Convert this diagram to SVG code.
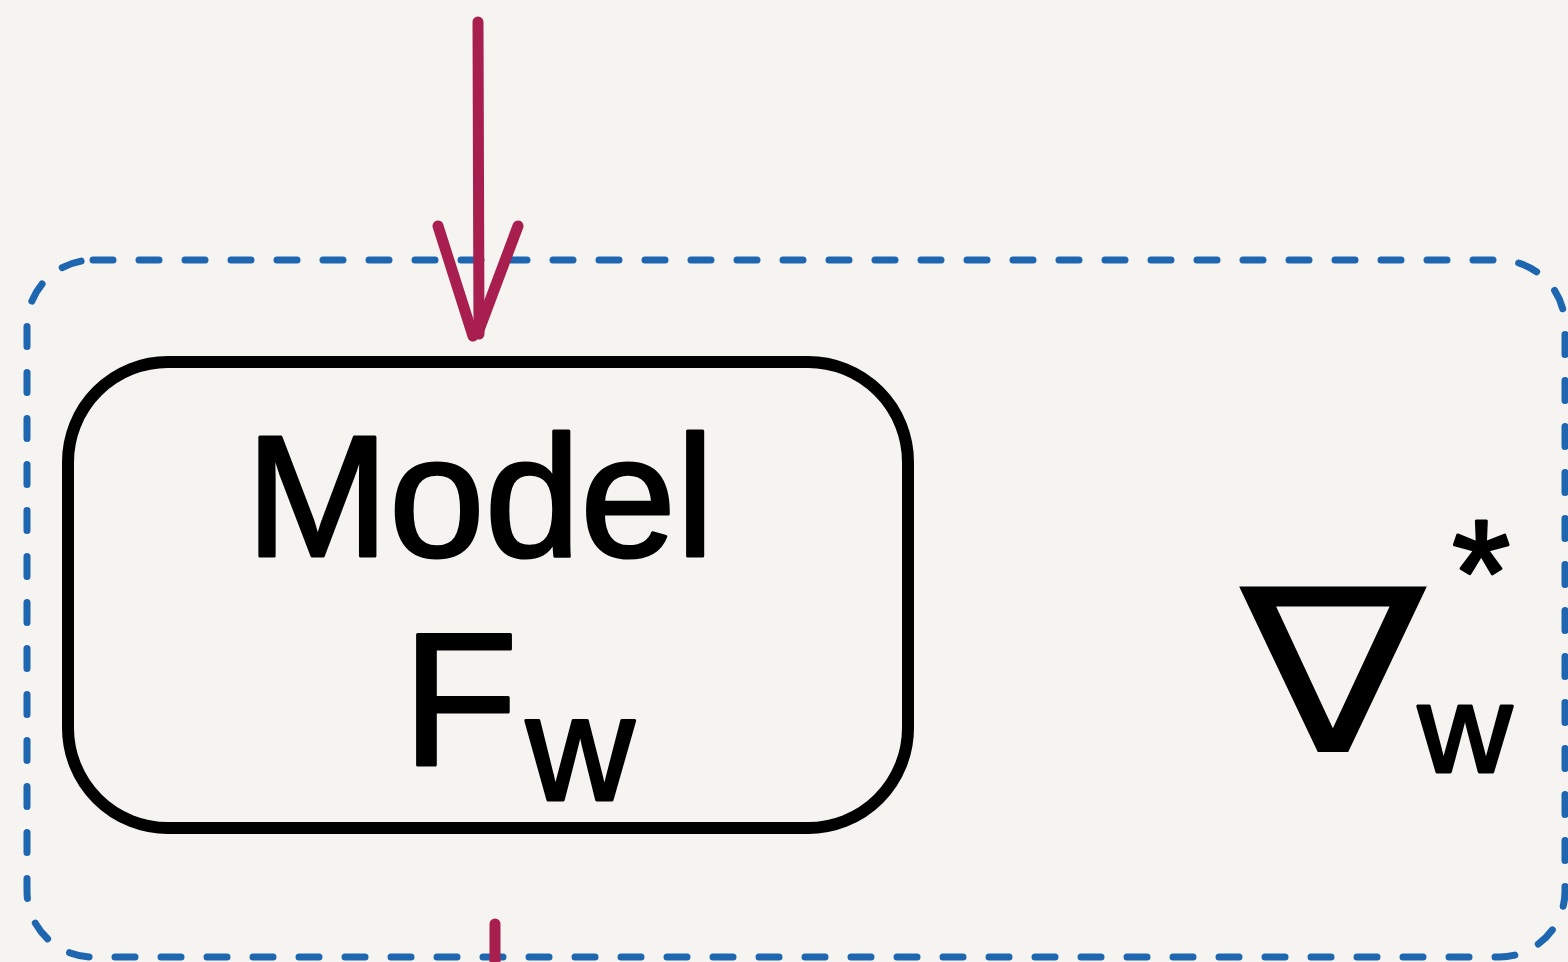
<svg xmlns="http://www.w3.org/2000/svg" width="1568" height="962" viewBox="0 0 1568 962">
  <style>
    .bg { fill: #f5f4f0; }
    .group-frame { fill: none; stroke: #1f66b0; stroke-width: 7; stroke-dasharray: 20 26; stroke-linecap: round; }
    .node-box { fill: none; stroke: #000; stroke-width: 12; }
    .flow { fill: none; stroke: #a81e4f; stroke-width: 11; stroke-linecap: round; stroke-linejoin: round; }
    .label { font-family: "Liberation Sans", Arial, sans-serif; fill: #000; stroke: #000; stroke-width: 3; stroke-linejoin: round; }
    .math { font-family: "DejaVu Sans", "Liberation Sans", sans-serif; fill: #000; }
  </style>

  <rect class="bg" x="0" y="0" width="1568" height="962"/>

  <!-- dashed grouping frame around the model and gradient operator -->
  <g id="frame">
    <rect class="group-frame" x="27" y="260" width="1538" height="697" rx="66" ry="66"/>
  </g>

  <!-- model node -->
  <g id="model">
    <rect class="node-box" x="68" y="362" width="840" height="466" rx="100" ry="100"/>
    <text class="label" x="480" y="556" font-size="172" text-anchor="middle">Model</text>
    <text class="label" x="402" y="765" font-size="190">F<tspan x="526" y="800" font-size="150">w</tspan></text>
  </g>

  <!-- gradient operator -->
  <g id="gradient">
    <text class="math" x="1240" y="752" font-size="230" textLength="186" lengthAdjust="spacingAndGlyphs">∇</text>
    <text class="label" x="1418" y="772" font-size="125" textLength="94" lengthAdjust="spacingAndGlyphs">w</text>
    <text class="label" x="1452" y="625" font-size="150">*</text>
  </g>

  <!-- connectors -->
  <g id="connectors">
    <path class="flow" d="M478 22 L479 334"/>
    <path class="flow" d="M438 226 L473 336 M518 226 L479 330"/>
    <path class="flow" d="M495 924 L495 962"/>
  </g>
</svg>
